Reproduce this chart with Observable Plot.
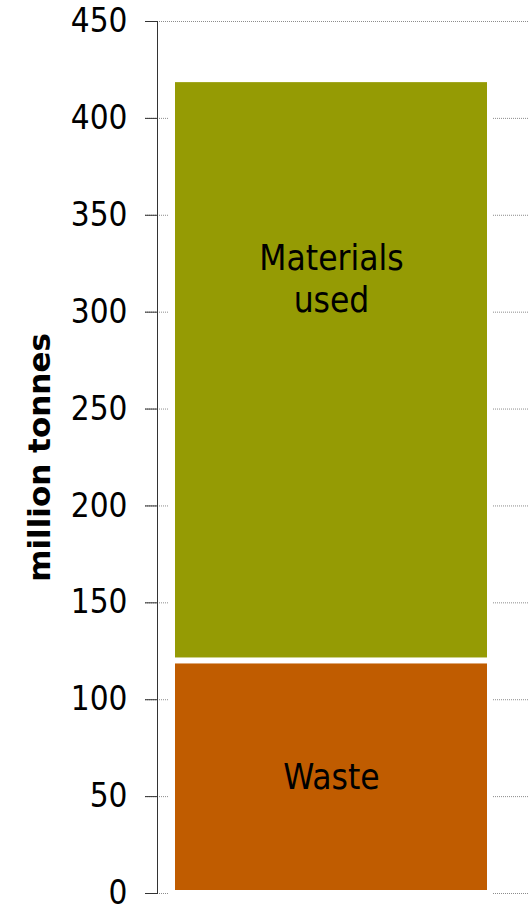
<!DOCTYPE html>
<html>
<head>
<meta charset="utf-8">
<script src="https://cdn.jsdelivr.net/npm/d3@7"></script>
<script src="https://cdn.jsdelivr.net/npm/@observablehq/plot@0.6"></script>
<style>
  html, body { margin: 0; padding: 0; background: #fff; }
  svg { display: block; }
</style>
</head>
<body>
<div id="chart"></div>
<script>
// Data
const categories = ["Waste", "Materials used"];
const values = [120, 300];
const colors = ["#C05C00", "#959B04"];
const labelLines = [["Waste"], ["Materials", "used"]];
const labelY = [61, 318];
const yTicks = [0, 50, 100, 150, 200, 250, 300, 350, 400, 450];
const axisLabel = "million tonnes";
const total = values.reduce((a, b) => a + b, 0);

const rows = categories.map((c, i) => ({ group: "all", category: c, value: values[i] }));
const labels = categories.map((c, i) => ({ group: "all", text: labelLines[i].join("\n"), y: labelY[i] }));

const chart = Plot.plot({
  width: 528,
  height: 906,
  marginTop: 21,
  marginBottom: 13,
  marginLeft: 157,
  marginRight: 0,
  style: { fontFamily: "'DejaVu Sans Condensed', 'DejaVu Sans', sans-serif", fontSize: "33px", color: "#000", background: "#fff" },
  x: { domain: ["all"], axis: null, padding: 0 },
  y: { domain: [0, 450], ticks: yTicks, label: null },
  color: { domain: categories, range: colors },
  marks: [
    Plot.ruleY(yTicks, { stroke: "#8c8c8c", strokeWidth: 1, strokeDasharray: "1,1", insetLeft: -12 }),
    // white halo behind the stacked column
    Plot.barY([{ group: "all", y1: 0, y2: total }], { x: "group", y1: "y1", y2: "y2", fill: "#fff", insetLeft: 12, insetRight: 35, insetTop: -3, insetBottom: -3 }),
    Plot.barY(rows, Plot.stackY({ x: "group", y: "value", fill: "category", order: categories, insetLeft: 18, insetRight: 41, insetTop: 3, insetBottom: 3 })),
    Plot.text(labels, { x: "group", y: "y", text: "text", dx: -11.5, fontSize: 35, lineHeight: 1.2, fill: "#000" }),
    Plot.frame({ anchor: "left", stroke: "#333", strokeWidth: 1 }),
    Plot.axisY({ ticks: yTicks, tickSize: 12, tickPadding: 18, stroke: "#333", fontSize: 33, fill: "#000", label: null }),
    Plot.text([axisLabel], { frameAnchor: "left", textAnchor: "middle", rotate: -90, dx: -117, fontSize: 31, fontWeight: "bold", fontFamily: "'DejaVu Sans', sans-serif", fill: "#000" })
  ]
});
document.getElementById("chart").appendChild(chart);
</script>
</body>
</html>
